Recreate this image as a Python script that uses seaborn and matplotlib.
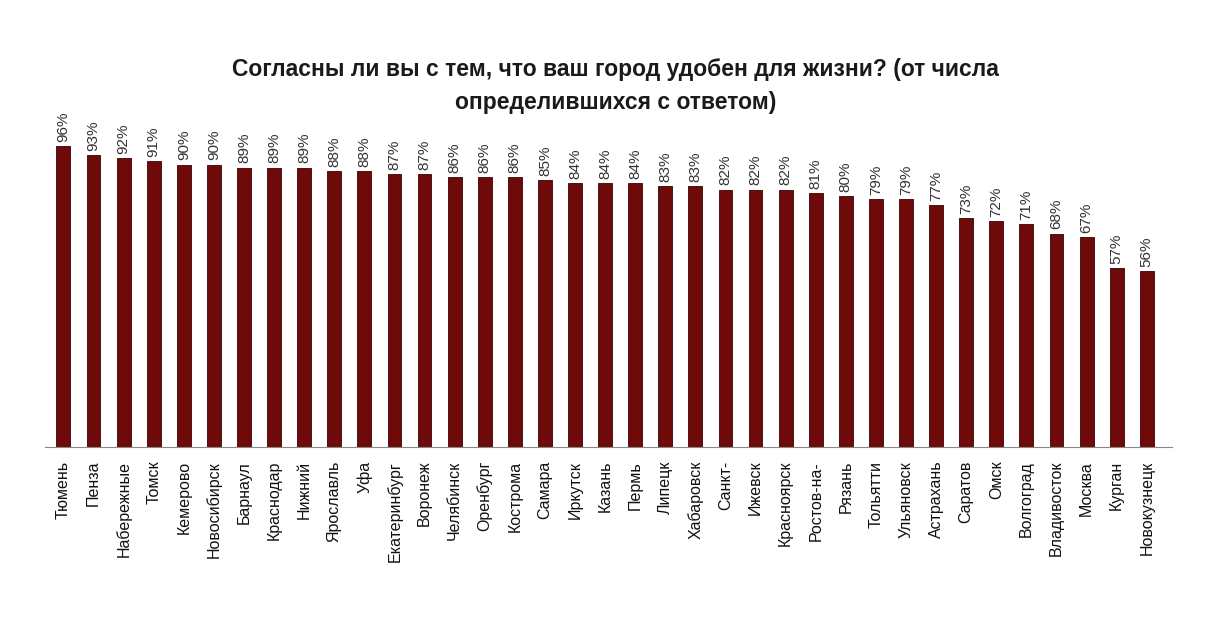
import numpy as np
import pandas as pd
import matplotlib
matplotlib.use("Agg")
import matplotlib.pyplot as plt
import seaborn as sns

cities = ["Тюмень", "Пенза", "Набережные", "Томск", "Кемерово", "Новосибирск",
          "Барнаул", "Краснодар", "Нижний", "Ярославль", "Уфа", "Екатеринбург",
          "Воронеж", "Челябинск", "Оренбург", "Кострома", "Самара", "Иркутск",
          "Казань", "Пермь", "Липецк", "Хабаровск", "Санкт-", "Ижевск",
          "Красноярск", "Ростов-на-", "Рязань", "Тольятти", "Ульяновск",
          "Астрахань", "Саратов", "Омск", "Волгоград", "Владивосток", "Москва",
          "Курган", "Новокузнецк"]
values = [96, 93, 92, 91, 90, 90, 89, 89, 89, 88, 88, 87, 87, 86, 86, 86, 85,
          84, 84, 84, 83, 83, 82, 82, 82, 81, 80, 79, 79, 77, 73, 72, 71, 68,
          67, 57, 56]

title = "Согласны ли вы с тем, что ваш город удобен для жизни? (от числа\nопределившихся с ответом)"

sns.set_style("white")
plt.rcParams['font.family'] = ['Liberation Sans', 'DejaVu Sans']

df = pd.DataFrame({"city": cities, "value": values})

fig = plt.figure(figsize=(12.26, 6.34), dpi=100)
ax = fig.add_axes([0.037, 0.295, 0.919, 0.495])

sns.barplot(data=df, x="city", y="value", color="#6e0a0a", width=0.46,
            saturation=1, edgecolor="#3a0000", linewidth=0.6, ax=ax)

labels = [f"{v}%" for v in values]
ax.bar_label(ax.containers[0], labels=labels, rotation=90, padding=3,
             fontsize=11, color="#333333")

ax.set_ylim(0, 100)
ax.set_xlim(-0.6, len(cities) - 0.16)
ax.set_xlabel("")
ax.set_ylabel("")
ax.set_yticks([])
for s in ["top", "right", "left"]:
    ax.spines[s].set_visible(False)
ax.spines["bottom"].set_color("#888888")

ax.set_xticks(np.arange(len(cities)))
ax.set_xticklabels(cities, rotation=90, fontsize=11.5, color="#111111")
ax.tick_params(axis="x", which="major", length=0, pad=10)
ax.set_xticks(np.arange(-0.5, len(cities)), minor=True)
ax.tick_params(axis="x", which="minor", length=4, color="#888888", direction="out")

fig.text(0.502, 0.864, title, ha="center", va="center", fontsize=16.5,
         fontweight="bold", color="#1a1a1a", linespacing=1.55)

fig.savefig("out.png", dpi=100, facecolor="white")
